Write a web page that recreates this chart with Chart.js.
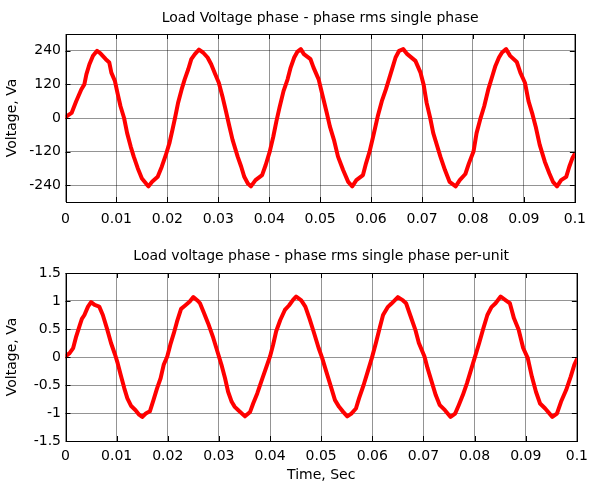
<!DOCTYPE html>
<html>
<head>
<title>Load Voltage</title>
<script src="https://cdn.jsdelivr.net/npm/chart.js"></script>
<style>
body {
  margin: 0;
  padding: 0;
  background-color: #fff;
}
#page {
  position: relative;
  width: 595px;
  height: 484px;
}
.panel {
  position: absolute;
  left: 0;
  width: 595px;
  height: 242px;
}
</style>
</head>
<body>
<div id="page">
  <div class="panel" style="top:0"><canvas id="topChart" width="595" height="242"></canvas></div>
  <div class="panel" style="top:242px"><canvas id="botChart" width="595" height="242"></canvas></div>
</div>

<script>
// tick positions
const xTicks = [0, 0.01, 0.02, 0.03, 0.04, 0.05, 0.06, 0.07, 0.08, 0.09, 0.1];
const topYTicks = [-240, -120, 0, 120, 240];
const botYTicks = [-1.5, -1, -0.5, 0, 0.5, 1, 1.5];

// top panel: phase voltage (V)
const topTime = [0, 0.0012, 0.0021, 0.0031, 0.0037, 0.0041, 0.0047, 0.0054, 0.0062, 0.0068,
  0.0079, 0.0086, 0.0090, 0.0097, 0.0102, 0.0108, 0.0115, 0.0121, 0.0128, 0.0134,
  0.0142, 0.0150, 0.0159, 0.0163, 0.0170, 0.0181, 0.0189, 0.0197, 0.0204, 0.0210,
  0.0215, 0.0221, 0.0228, 0.0234, 0.0241, 0.0247, 0.0254, 0.0262, 0.0270, 0.0279,
  0.0286, 0.0294, 0.0301, 0.0308, 0.0315, 0.0321, 0.0328, 0.0338, 0.0345, 0.0351,
  0.0358, 0.0364, 0.0373, 0.0386, 0.0393, 0.0401, 0.0408, 0.0414, 0.0420, 0.0428,
  0.0436, 0.0442, 0.0449, 0.0455, 0.0462, 0.0468, 0.0481, 0.0487, 0.0497, 0.0505,
  0.0513, 0.0519, 0.0527, 0.0535, 0.0545, 0.0555, 0.0563, 0.0571, 0.0584, 0.0590,
  0.0597, 0.0604, 0.0613, 0.0621, 0.0629, 0.0635, 0.0642, 0.0648, 0.0655, 0.0663,
  0.0671, 0.0687, 0.0697, 0.0703, 0.0709, 0.0716, 0.0722, 0.0729, 0.0736, 0.0745,
  0.0754, 0.0766, 0.0774, 0.0785, 0.0792, 0.0801, 0.0807, 0.0814, 0.0822, 0.0830,
  0.0838, 0.0844, 0.0851, 0.0857, 0.0865, 0.0873, 0.0886, 0.0893, 0.0902, 0.0909,
  0.0917, 0.0923, 0.0931, 0.0941, 0.0950, 0.0957, 0.0965, 0.0973, 0.0983, 0.0989,
  0.0995, 0.1000];
const topVolt = [3, 18, 60, 102, 120, 156, 192, 222, 240, 232,
  210, 198, 162, 132, 90, 42, 0, -54, -102, -138,
  -180, -216, -236, -244, -228, -210, -174, -132, -90, -42,
  0, 54, 102, 138, 174, 210, 228, 244, 234, 216,
  192, 156, 126, 78, 24, -24, -78, -138, -174, -210,
  -234, -244, -222, -204, -168, -120, -66, -12, 36, 96,
  138, 180, 216, 236, 246, 228, 210, 180, 138, 78,
  18, -30, -78, -138, -186, -228, -244, -222, -204, -162,
  -120, -66, 6, 60, 102, 138, 180, 216, 240, 246,
  228, 204, 162, 120, 54, 0, -54, -96, -138, -186,
  -228, -244, -222, -200, -162, -120, -54, -6, 42, 102,
  150, 186, 216, 234, 246, 222, 200, 162, 126, 60,
  12, -30, -96, -156, -198, -228, -244, -222, -210, -174,
  -144, -128];

// bottom panel: same voltage in per-unit
const botTime = [0, 0.0008, 0.0015, 0.0021, 0.0028, 0.0032, 0.0037, 0.0044, 0.0050, 0.0057,
  0.0066, 0.0073, 0.0081, 0.0089, 0.0097, 0.0102, 0.0108, 0.0115, 0.0121, 0.0128,
  0.0137, 0.0144, 0.0150, 0.0157, 0.0165, 0.0172, 0.0179, 0.0186, 0.0192, 0.0199,
  0.0205, 0.0212, 0.0218, 0.0226, 0.0234, 0.0243, 0.0250, 0.0258, 0.0263, 0.0271,
  0.0279, 0.0289, 0.0299, 0.0305, 0.0312, 0.0318, 0.0325, 0.0331, 0.0339, 0.0351,
  0.0361, 0.0367, 0.0375, 0.0384, 0.0392, 0.0400, 0.0406, 0.0412, 0.0420, 0.0429,
  0.0437, 0.0445, 0.0451, 0.0461, 0.0469, 0.0477, 0.0485, 0.0495, 0.0502, 0.0510,
  0.0519, 0.0527, 0.0535, 0.0543, 0.0551, 0.0559, 0.0568, 0.0574, 0.0583, 0.0591,
  0.0599, 0.0607, 0.0615, 0.0621, 0.0630, 0.0637, 0.0650, 0.0660, 0.0666, 0.0674,
  0.0684, 0.0691, 0.0702, 0.0708, 0.0716, 0.0724, 0.0732, 0.0742, 0.0753, 0.0762,
  0.0769, 0.0777, 0.0785, 0.0793, 0.0801, 0.0809, 0.0817, 0.0825, 0.0833, 0.0841,
  0.0851, 0.0861, 0.0869, 0.0877, 0.0886, 0.0895, 0.0904, 0.0912, 0.0920, 0.0928,
  0.0938, 0.0952, 0.0961, 0.0969, 0.0979, 0.0988, 0.0995, 0.1000];
const botVolt = [0.01, 0.07, 0.16, 0.37, 0.57, 0.68, 0.75, 0.90, 0.98, 0.93,
  0.90, 0.75, 0.51, 0.25, 0.04, -0.11, -0.32, -0.56, -0.74, -0.87,
  -0.95, -1.03, -1.07, -1.01, -0.97, -0.77, -0.56, -0.38, -0.14, 0.01,
  0.22, 0.43, 0.63, 0.86, 0.92, 0.99, 1.07, 1.01, 0.96, 0.78,
  0.60, 0.34, 0.04, -0.14, -0.38, -0.62, -0.80, -0.89, -0.96, -1.06,
  -0.98, -0.83, -0.65, -0.41, -0.20, 0.01, 0.22, 0.46, 0.66, 0.84,
  0.92, 1.02, 1.08, 1.01, 0.90, 0.69, 0.46, 0.16, -0.02, -0.26,
  -0.53, -0.77, -0.89, -0.98, -1.06, -1.01, -0.92, -0.74, -0.50, -0.26,
  -0.02, 0.25, 0.54, 0.75, 0.89, 0.95, 1.07, 1.01, 0.96, 0.75,
  0.49, 0.25, 0.01, -0.20, -0.44, -0.68, -0.86, -0.95, -1.07, -1.01,
  -0.86, -0.68, -0.47, -0.23, 0.01, 0.25, 0.51, 0.75, 0.89, 0.96,
  1.08, 1.01, 0.96, 0.69, 0.49, 0.16, -0.02, -0.35, -0.62, -0.83,
  -0.92, -1.07, -1.01, -0.80, -0.59, -0.35, -0.14, -0.04];

Chart.defaults.font.family = "'DejaVu Sans', sans-serif";
Chart.defaults.font.size = 14;
Chart.defaults.color = '#000';

const GRID = 'rgba(0,0,0,0.42)';

// matlab style box with inward tick marks
const boxPlugin = {
  id: 'box',
  afterDraw(chart) {
    const { ctx, chartArea: a, scales } = chart;
    ctx.save();
    ctx.strokeStyle = '#000';
    ctx.lineWidth = 1;
    ctx.beginPath();
    scales.x.ticks.forEach(t => {
      const px = Math.round(scales.x.getPixelForValue(t.value)) + 0.5;
      ctx.moveTo(px, a.bottom); ctx.lineTo(px, a.bottom - 5);
      ctx.moveTo(px, a.top); ctx.lineTo(px, a.top + 5);
    });
    scales.y.ticks.forEach(t => {
      const py = Math.round(scales.y.getPixelForValue(t.value)) + 0.5;
      ctx.moveTo(a.left, py); ctx.lineTo(a.left + 5, py);
      ctx.moveTo(a.right, py); ctx.lineTo(a.right - 5, py);
    });
    ctx.stroke();
    ctx.strokeRect(Math.round(a.left) + 0.5, Math.round(a.top) + 0.5,
      Math.round(a.right - a.left), Math.round(a.bottom - a.top));
    ctx.restore();
  }
};

function makeChart(id, opts) {
  const points = opts.time.map((t, i) => ({ x: t, y: opts.values[i] }));
  return new Chart(document.getElementById(id), {
    type: 'line',
    data: {
      datasets: [{
        data: points,
        borderColor: '#ff0000',
        borderWidth: 4,
        borderJoinStyle: 'round',
        borderCapStyle: 'round',
        pointRadius: 0,
        tension: 0
      }]
    },
    options: {
      responsive: false,
      animation: false,
      devicePixelRatio: 1,
      layout: { padding: { left: 0, right: 10.5, top: 0, bottom: 0 } },
      plugins: {
        legend: { display: false },
        tooltip: { enabled: false },
        title: {
          display: true,
          fullSize: false,
          text: opts.title,
          color: '#000',
          font: { size: 14, weight: 'normal' },
          padding: opts.titlePad
        }
      },
      scales: {
        x: {
          type: 'linear',
          min: 0,
          max: 0.1,
          afterBuildTicks: s => { s.ticks = xTicks.map(v => ({ value: v })); },
          afterFit: s => { s.height = opts.xHeight; },
          ticks: {
            padding: opts.xTickPad,
            maxRotation: 0,
            autoSkip: false,
            callback: v => String(+v.toFixed(2))
          },
          grid: { color: GRID, drawTicks: false },
          border: { display: false },
          title: {
            display: !!opts.xTitle,
            text: opts.xTitle || '',
            font: { size: 14 },
            padding: { top: 0, bottom: 0 }
          }
        },
        y: {
          min: opts.yMin,
          max: opts.yMax,
          afterBuildTicks: s => { s.ticks = opts.yTicks.map(v => ({ value: v })); },
          afterFit: s => { s.width = 65.5; },
          ticks: { padding: 4.5, autoSkip: false, callback: v => String(v) },
          grid: { color: GRID, drawTicks: false },
          border: { display: false },
          title: {
            display: true,
            text: 'Voltage, Va',
            font: { size: 14 },
            padding: { top: 4.4, bottom: 0 }
          }
        }
      }
    },
    plugins: [boxPlugin]
  });
}

makeChart('topChart', {
  time: topTime,
  values: topVolt,
  title: 'Load Voltage phase - phase rms single phase',
  titlePad: { top: 9.5, bottom: 7.7 },
  yMin: -300,
  yMax: 300,
  yTicks: topYTicks,
  xHeight: 40,
  xTickPad: 9
});

makeChart('botChart', {
  time: botTime,
  values: botVolt,
  title: 'Load voltage phase - phase rms single phase per-unit',
  titlePad: { top: 6, bottom: 8.2 },
  yMin: -1.5,
  yMax: 1.5,
  yTicks: botYTicks,
  xHeight: 43,
  xTickPad: 7,
  xTitle: 'Time, Sec'
});
</script>
</body>
</html>
